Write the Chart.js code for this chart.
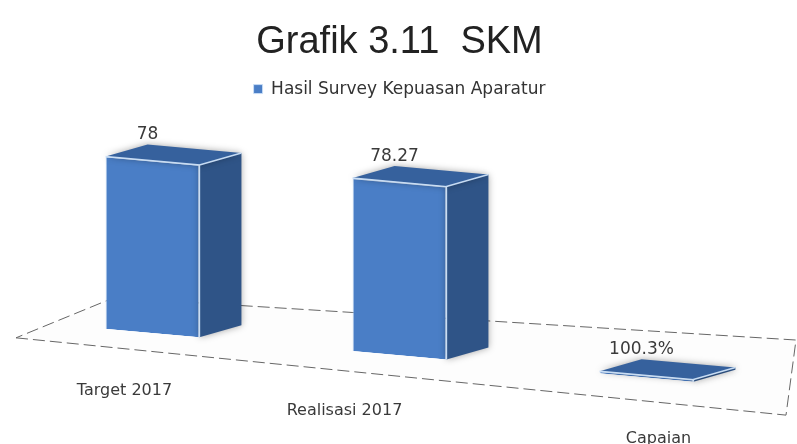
<!DOCTYPE html>
<html>
<head>
<meta charset="utf-8">
<script src="https://cdn.jsdelivr.net/npm/chart.js@4"></script>
<style>
  body { margin: 0; background: #fff; }
  #wrap { width: 797px; height: 444px; }
</style>
</head>
<body>
<div id="wrap"><canvas id="myChart"></canvas></div>
<script>
// data
const labels = ["Target 2017", "Realisasi 2017", "Capaian"];
const values = [78, 78.27, 1.003];
const valueLabels = ["78", "78.27", "100.3%"];
const seriesName = "Hasil Survey Kepuasan Aparatur";

// fake 3d look
const shear = 0.09;
const depth = { x: 42, y: -12 };
const labelShift = [-28, -55, 12]; // category labels sit unevenly in the original

function proj(chart, x, y) {
  return [x, y + shear * (x - chart.chartArea.left)];
}

function poly(ctx, pts) {
  ctx.beginPath();
  ctx.moveTo(pts[0][0], pts[0][1]);
  for (let i = 1; i < pts.length; i++) ctx.lineTo(pts[i][0], pts[i][1]);
  ctx.closePath();
}

const bar3d = {
  id: "bar3d",
  beforeDatasetsDraw(chart) {
    const ctx = chart.ctx;
    const a = chart.chartArea;
    const b = chart.scales.y.getPixelForValue(0);
    // floor
    const floor = [
      proj(chart, a.left - 13, b + 17),
      proj(chart, a.right + 16, b + 25),
      proj(chart, a.right + 26, b - 51),
      proj(chart, a.left + 85, b - 32),
    ];
    ctx.save();
    poly(ctx, floor);
    ctx.fillStyle = "#fdfdfd";
    ctx.fill();
    ctx.strokeStyle = "#666";
    ctx.lineWidth = 1;
    ctx.setLineDash([12, 5]);
    ctx.stroke();
    ctx.restore();
    // shear the bars
    ctx.save();
    ctx.transform(1, shear, 0, 1, 0, -shear * a.left);
  },
  afterDatasetsDraw(chart) {
    const ctx = chart.ctx;
    ctx.restore();
    const meta = chart.getDatasetMeta(0);
    meta.data.forEach((el, i) => {
      const l = el.x - el.width / 2;
      const r = el.x + el.width / 2;
      const fl = proj(chart, l, el.y);
      const fr = proj(chart, r, el.y);
      const br = proj(chart, r, el.base);
      const d = (p) => [p[0] + depth.x, p[1] + depth.y];
      ctx.save();
      ctx.shadowColor = "rgba(0,0,0,0.35)";
      ctx.shadowBlur = 7;
      // side
      poly(ctx, [fr, d(fr), d(br), br]);
      ctx.fillStyle = "#2f5487";
      ctx.fill();
      // top
      poly(ctx, [fl, fr, d(fr), d(fl)]);
      ctx.fillStyle = "#36619d";
      ctx.fill();
      ctx.restore();
      // light edges
      ctx.save();
      ctx.strokeStyle = "rgba(205,225,248,0.95)";
      ctx.lineWidth = 1.5;
      ctx.beginPath();
      ctx.moveTo(fl[0], fl[1]);
      ctx.lineTo(fr[0], fr[1]);
      ctx.lineTo(br[0], br[1]);
      ctx.moveTo(fr[0], fr[1]);
      ctx.lineTo(d(fr)[0], d(fr)[1]);
      ctx.stroke();
      ctx.restore();
      // value label
      const c = proj(chart, el.x, el.y);
      ctx.save();
      ctx.font = "17px 'DejaVu Sans'";
      ctx.fillStyle = "#3a3a3a";
      ctx.textAlign = "center";
      ctx.textBaseline = "middle";
      ctx.fillText(valueLabels[i], c[0] - 5, c[1] - 26);
      // category label
      const t = proj(chart, el.x + labelShift[i], el.base);
      ctx.font = "16px 'DejaVu Sans'";
      ctx.fillText(labels[i], t[0], t[1] + 60);
      ctx.restore();
    });
  },
};

const ctx = document.getElementById("myChart");
const myChart = new Chart(ctx, {
  type: "bar",
  data: {
    labels: labels,
    datasets: [
      {
        label: seriesName,
        data: values,
        backgroundColor: "#4a7ec6",
        borderColor: "rgba(205,225,248,0.9)",
        borderWidth: 1,
        barPercentage: 0.38,
        categoryPercentage: 1,
      },
    ],
  },
  options: {
    responsive: true,
    maintainAspectRatio: false,
    animation: false,
    layout: { padding: { left: 29, right: 27, bottom: 122 } },
    scales: {
      x: { display: false },
      y: { display: false, min: 0, max: 97 },
    },
    plugins: {
      tooltip: { enabled: false },
      title: {
        display: true,
        text: "Grafik 3.11  SKM",
        color: "#222",
        font: { family: "'Liberation Sans', Arial", size: 38, weight: "normal" },
        padding: { top: 20, bottom: 4 },
      },
      legend: {
        display: true,
        labels: {
          color: "#333",
          font: { family: "'DejaVu Sans'", size: 17 },
          boxWidth: 9,
          boxHeight: 9,
          padding: 11,
        },
      },
    },
  },
  plugins: [bar3d],
});
</script>
</body>
</html>
